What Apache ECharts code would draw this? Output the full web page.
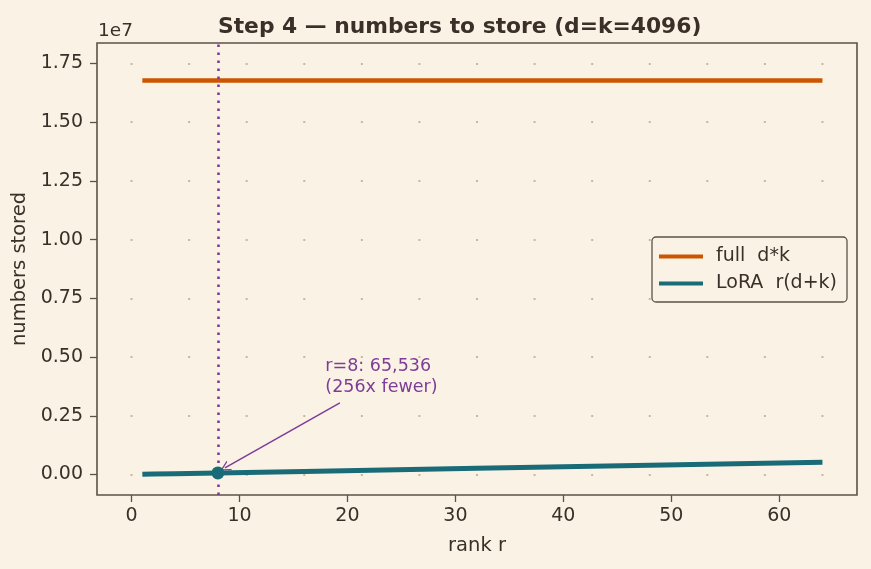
<!DOCTYPE html>
<html>
<head>
<meta charset="utf-8">
<script src="https://cdn.jsdelivr.net/npm/echarts@6/dist/echarts.min.js"></script>
<style>
html,body{margin:0;padding:0;background:#faf2e4;}
#chart{width:871px;height:569px;}
</style>
</head>
<body>
<div id="chart"></div>
<script>
// ---- data ----
const ranks = [1, 2, 4, 8, 16, 32, 64];
const fullValues = [16777216, 16777216, 16777216, 16777216, 16777216, 16777216, 16777216];
const loraValues = [8192, 16384, 32768, 65536, 131072, 262144, 524288];
const highlightRank = 8;
const highlightValue = 65536;
const xTickLabels = [0, 10, 20, 30, 40, 50, 60];
const yTickValues = [0, 2500000, 5000000, 7500000, 10000000, 12500000, 15000000, 17500000];
const annotationLines = ['r=8: 65,536', '(256x fewer)'];
const annotationTextAt = [18, 3250000];
const arrowFrom = [19.3, 3050000];
const arrowTo = [8.65, 280000];
const seriesNames = ['full  d*k', 'LoRA  r(d+k)'];

const textColor = '#3b3029';
const frameColor = '#5e5246';
const orange = '#cc5500';
const teal = '#1a6b78';
const purple = '#7d3c98';

const chart = echarts.init(document.getElementById('chart'), null, {renderer: 'canvas'});

const gridLeft = 97, gridRight = 871 - 857, gridTop = 43, gridBottom = 569 - 495;
const xMin = -3.2, xMax = 67.2;
const pxPerUnit = (871 - gridLeft - gridRight) / (xMax - xMin);
const dotSpacing = pxPerUnit * 64 / 12;
const firstDot = (0 - xMin) * pxPerUnit;
const dashLen = 2;
const dashOffset = ((dotSpacing - (firstDot - dashLen / 2)) % dotSpacing + dotSpacing) % dotSpacing;

const option = {
  backgroundColor: '#faf2e4',
  animation: false,
  textStyle: {fontFamily: 'DejaVu Sans'},
  title: {
    text: 'Step 4 \u2014 numbers to store (d=k=4096)',
    left: 213, top: 11,
    textStyle: {fontFamily: 'DejaVu Sans', fontWeight: 'bold', fontSize: 21.8, color: textColor}
  },
  graphic: [{
    type: 'text', left: 98, top: 22,
    style: {text: '1e7', fontFamily: 'DejaVu Sans', fontSize: 18.5, fill: textColor}
  }],
  grid: {
    left: gridLeft, right: gridRight, top: gridTop, bottom: gridBottom,
    show: true, borderColor: frameColor, borderWidth: 1.6, backgroundColor: 'transparent',
    containLabel: false
  },
  legend: {
    data: seriesNames,
    orient: 'vertical',
    left: 652, top: 237,
    icon: 'rect',
    itemWidth: 44, itemHeight: 4,
    itemGap: 8,
    padding: [10, 10, 9, 7],
    backgroundColor: '#faf2e4',
    borderColor: frameColor, borderWidth: 1.3, borderRadius: 4,
    textStyle: {fontFamily: 'DejaVu Sans', fontSize: 19, color: textColor, padding: [0, 0, 0, 8]}
  },
  xAxis: {
    type: 'value', min: xMin, max: xMax,
    name: 'rank r', nameLocation: 'middle', nameGap: 41,
    nameTextStyle: {fontFamily: 'DejaVu Sans', fontSize: 19.5, color: textColor},
    axisLine: {show: false, onZero: false},
    axisTick: {show: true, length: 7, customValues: xTickLabels, lineStyle: {color: frameColor, width: 1.3}},
    axisLabel: {customValues: xTickLabels, fontFamily: 'DejaVu Sans', fontSize: 19, color: textColor, margin: 12},
    splitLine: {show: false}
  },
  yAxis: {
    type: 'value', min: -875000, max: 18375000,
    name: 'numbers stored', nameLocation: 'middle', nameGap: 64, nameRotate: 90,
    nameTextStyle: {fontFamily: 'DejaVu Sans', fontSize: 19.5, color: textColor},
    axisLine: {show: false, onZero: false},
    axisTick: {show: true, length: 7, customValues: yTickValues, lineStyle: {color: frameColor, width: 1.3}},
    axisLabel: {customValues: yTickValues, fontFamily: 'DejaVu Sans', fontSize: 19, color: textColor, margin: 14,
      formatter: v => (v / 1e7).toFixed(2)},
    splitLine: {show: true, customValues: yTickValues,
      lineStyle: {color: '#c6b9a3', width: 2, type: [dashLen, dotSpacing - dashLen], dashOffset: dashOffset, cap: 'butt'}}
  },
  series: [
    {
      name: seriesNames[0], type: 'line', showSymbol: false, symbol: 'none',
      data: ranks.map((r, i) => [r, fullValues[i]]),
      lineStyle: {color: orange, width: 4.4}, itemStyle: {color: orange}, z: 3
    },
    {
      name: seriesNames[1], type: 'line', showSymbol: false, symbol: 'none',
      data: ranks.map((r, i) => [r, loraValues[i]]),
      lineStyle: {color: teal, width: 5}, itemStyle: {color: teal}, z: 4,
      markLine: {
        silent: true, symbol: ['none', 'none'], animation: false,
        label: {show: false},
        lineStyle: {color: purple, width: 2.6, type: [2.6, 5.4], opacity: 1},
        emphasis: {disabled: true},
        data: [{xAxis: highlightRank}]
      }
    },
    {
      name: 'arrow', type: 'line', data: [], showSymbol: false, z: 5,
      markLine: {
        silent: true, animation: false,
        symbol: ['none', 'path://M0,10 L5,0 L10,10 L8.7,10 L5,2.4 L1.3,10 Z'],
        symbolSize: [11, 10],
        label: {show: false},
        lineStyle: {color: purple, width: 1.5, type: 'solid', opacity: 1},
        itemStyle: {color: purple},
        emphasis: {disabled: true},
        data: [[{coord: arrowFrom}, {coord: arrowTo}]]
      }
    },
    {
      name: 'highlight', type: 'scatter', symbolSize: 13, z: 6,
      itemStyle: {color: teal, opacity: 1},
      data: [[highlightRank, highlightValue]]
    },
    {
      name: 'annotation', type: 'scatter', symbolSize: 1, z: 6,
      itemStyle: {color: 'rgba(0,0,0,0)'},
      label: {
        show: true, position: [0, 0], align: 'left', verticalAlign: 'bottom',
        formatter: annotationLines.join('\n'),
        fontFamily: 'DejaVu Sans', fontSize: 17.5, lineHeight: 21, color: purple,
        textBorderWidth: 0, textBorderColor: 'transparent', opacity: 1
      },
      data: [annotationTextAt]
    }
  ]
};
chart.setOption(option);
</script>
</body>
</html>
